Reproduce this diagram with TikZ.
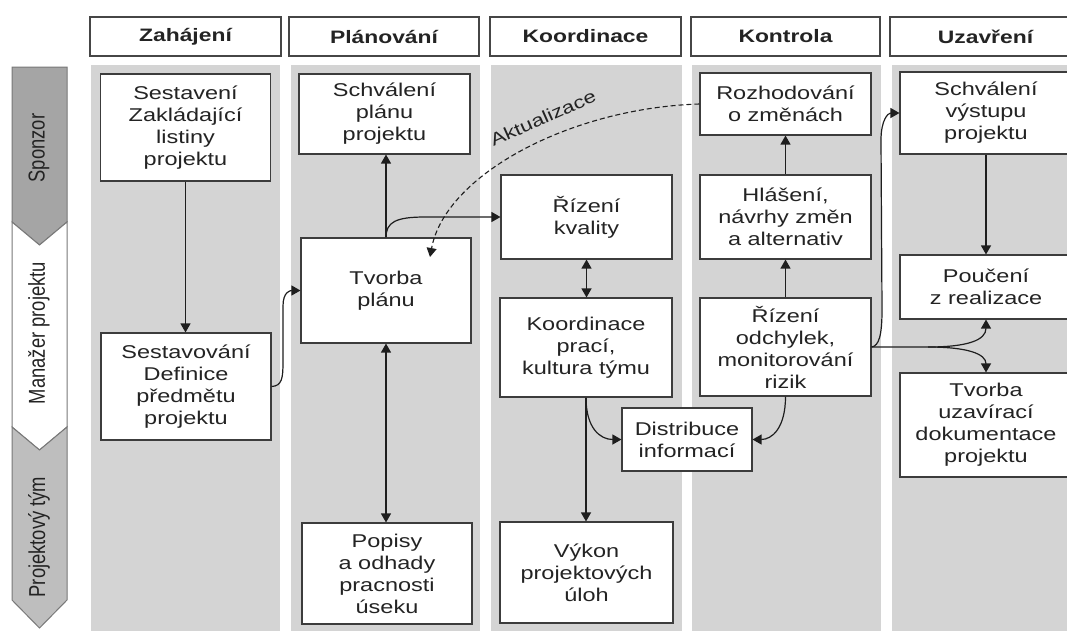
\documentclass[tikz,border=0pt]{standalone}
\usepackage{fontspec}
\setmainfont[FakeStretch=1.27]{Liberation Sans}
\newfontfamily\lanefont[FakeStretch=0.8]{Liberation Sans}
\usetikzlibrary{arrows.meta}
\definecolor{colbg}{RGB}{212,212,212}
\definecolor{lanedark}{RGB}{165,165,165}
\definecolor{lanemid}{RGB}{190,190,190}
\definecolor{laneline}{RGB}{120,120,120}
\definecolor{boxline}{RGB}{60,60,60}
\definecolor{headline}{RGB}{70,70,70}
\definecolor{txt}{RGB}{35,35,35}
\definecolor{arr}{RGB}{30,30,30}
\begin{document}
\begin{tikzpicture}[x=1pt,y=-1pt,
  box/.style={draw=boxline, fill=white, line width=1.1pt, inner sep=0pt, align=center,
    font=\fontsize{18.5}{22}\selectfont, text=txt},
  head/.style={draw=headline, fill=white, line width=1.4pt, inner sep=0pt, minimum height=39pt,
    font=\bfseries\fontsize{18}{21}\selectfont, text=txt},
  lanetxt/.style={rotate=90, inner sep=0pt, font=\lanefont\fontsize{23}{26}\selectfont, text=txt},
  conn/.style={line width=1.2pt, draw=arr, -{Triangle[length=9pt,width=10pt]}},
  dconn/.style={line width=1.2pt, draw=arr, {Triangle[length=9pt,width=10pt]}-{Triangle[length=9pt,width=10pt]}},
  dashconn/.style={line width=1.1pt, draw=arr, dash pattern=on 5pt off 3pt, -{Triangle[length=9pt,width=10pt]}}
]
\useasboundingbox (0,0) rectangle (1067,630);
\clip (0,0) rectangle (1067,630);
\fill[white] (0,0) rectangle (1067,630);

% columns
\fill[colbg] (91,65) rectangle (280,632);
\fill[colbg] (291,65) rectangle (480,632);
\fill[colbg] (491,65) rectangle (682,632);
\fill[colbg] (692,65) rectangle (881,632);
\fill[colbg] (892,65) rectangle (1070,632);

% headers
\node[head, minimum width=191pt] (h1) at (185.5,36.5) {Zahájení};
\node[head, minimum width=190pt] (h2) at (384,36.5) {Plánování};
\node[head, minimum width=191pt] (h3) at (585.5,36.5) {Koordinace};
\node[head, minimum width=189pt] (h4) at (785.5,36.5) {Kontrola};
\node[head, minimum width=191pt] (h5) at (985.5,36.5) {Uzavření};

% lanes
\filldraw[fill=lanedark, draw=laneline, line width=1pt] (12,67) -- (67,67) -- (67,222) -- (39.5,245) -- (12,222) -- cycle;
\filldraw[fill=white, draw=laneline, line width=1pt] (12,222) -- (39.5,245) -- (67,222) -- (67,427) -- (39.5,450) -- (12,427) -- cycle;
\filldraw[fill=lanemid, draw=laneline, line width=1pt] (12,427) -- (39.5,450) -- (67,427) -- (67,600) -- (39.5,628) -- (12,600) -- cycle;
\node[lanetxt] (l1) at (39,148) {Sponzor};
\node[lanetxt] (l2) at (39,333) {Manažer projektu};
\node[lanetxt] (l3) at (39,537) {Projektový tým};

% boxes
\node[box, minimum width=170pt, minimum height=107pt] (zakl) at (185.5,127.5) {Sestavení\\Zakládající\\listiny\\projektu};
\node[box, minimum width=171pt, minimum height=80pt] (schp) at (384.5,114) {Schválení\\plánu\\projektu};
\node[box, minimum width=170pt, minimum height=105pt] (tvorba) at (386,290.5) {Tvorba\\plánu};
\node[box, minimum width=170pt, minimum height=107pt] (defin) at (186,386.5) {Sestavování\\Definice\\předmětu\\projektu};
\node[box, minimum width=170pt, minimum height=101pt] (popis) at (387,573.5) {Popisy\\a odhady\\pracnosti\\úseku};
\node[box, minimum width=171pt, minimum height=84pt] (kval) at (586.5,217) {Řízení\\kvality};
\node[box, minimum width=172pt, minimum height=99pt] (koord) at (586,347.5) {Koordinace\\prací,\\kultura týmu};
\node[box, minimum width=173pt, minimum height=101pt] (vykon) at (586.5,572.5) {Výkon\\projektových\\úloh};
\node[box, minimum width=130pt, minimum height=63pt] (distr) at (687,439.5) {Distribuce\\informací};
\node[box, minimum width=171pt, minimum height=62pt] (rozh) at (785.5,104) {Rozhodování\\o změnách};
\node[box, minimum width=171pt, minimum height=84pt] (hlas) at (785.5,217) {Hlášení,\\návrhy změn\\a alternativ};
\node[box, minimum width=171pt, minimum height=98pt] (odch) at (785.5,347) {Řízení\\odchylek,\\monitorování\\rizik};
\node[box, minimum width=172pt, minimum height=82pt] (schv) at (986,113) {Schválení\\výstupu\\projektu};
\node[box, minimum width=172pt, minimum height=64pt] (pouc) at (986,287) {Poučení\\z realizace};
\node[box, minimum width=172pt, minimum height=104pt] (tvuz) at (986,425) {Tvorba\\uzavírací\\dokumentace\\projektu};

% connectors
\draw[conn] (zakl.south) -- (zakl.south |- defin.north);
\draw[conn] (defin.east) .. controls (282,386) and (283,378) .. (283,362) -- (283,306) .. controls (283,292) and (290,290.5) .. (tvorba.west);
\draw[conn] (tvorba.north) -- (tvorba.north |- schp.south);
\draw[conn] (tvorba.north) .. controls (386,222) and (396,217) .. (425,217) -- (kval.west);
\draw[dconn] (tvorba.south) -- (tvorba.south |- popis.north);
\draw[dashconn] (rozh.west) .. controls (570,108) and (445,175) .. (430,257);
\node[font=\fontsize{17.5}{21}\selectfont, text=txt, rotate=24, inner sep=0pt] (akt) at (543,118) {Aktualizace};
\draw[dconn] (kval.south) -- (kval.south |- koord.north);
\draw[conn] (koord.south) -- (koord.south |- vykon.north);
\draw[conn] (koord.south) .. controls (586,428) and (600,439.5) .. (distr.west);
\draw[conn] (odch.south) .. controls (785.5,428) and (772,439.5) .. (distr.east);
\draw[conn] (odch.north) -- (hlas.south);
\draw[conn] (hlas.north) -- (rozh.south);
\draw[conn] (odch.east) .. controls (879,346) and (882,335) .. (882,310) -- (881,140) .. controls (881,120) and (888,113) .. (schv.west);
\draw[conn] (odch.east) -- (928,347) .. controls (968,347) and (986,340) .. (pouc.south);
\draw[conn] (928,347) .. controls (968,347) and (986,354) .. (tvuz.north);
\draw[conn] (schv.south) -- (pouc.north);
\end{tikzpicture}
\end{document}
